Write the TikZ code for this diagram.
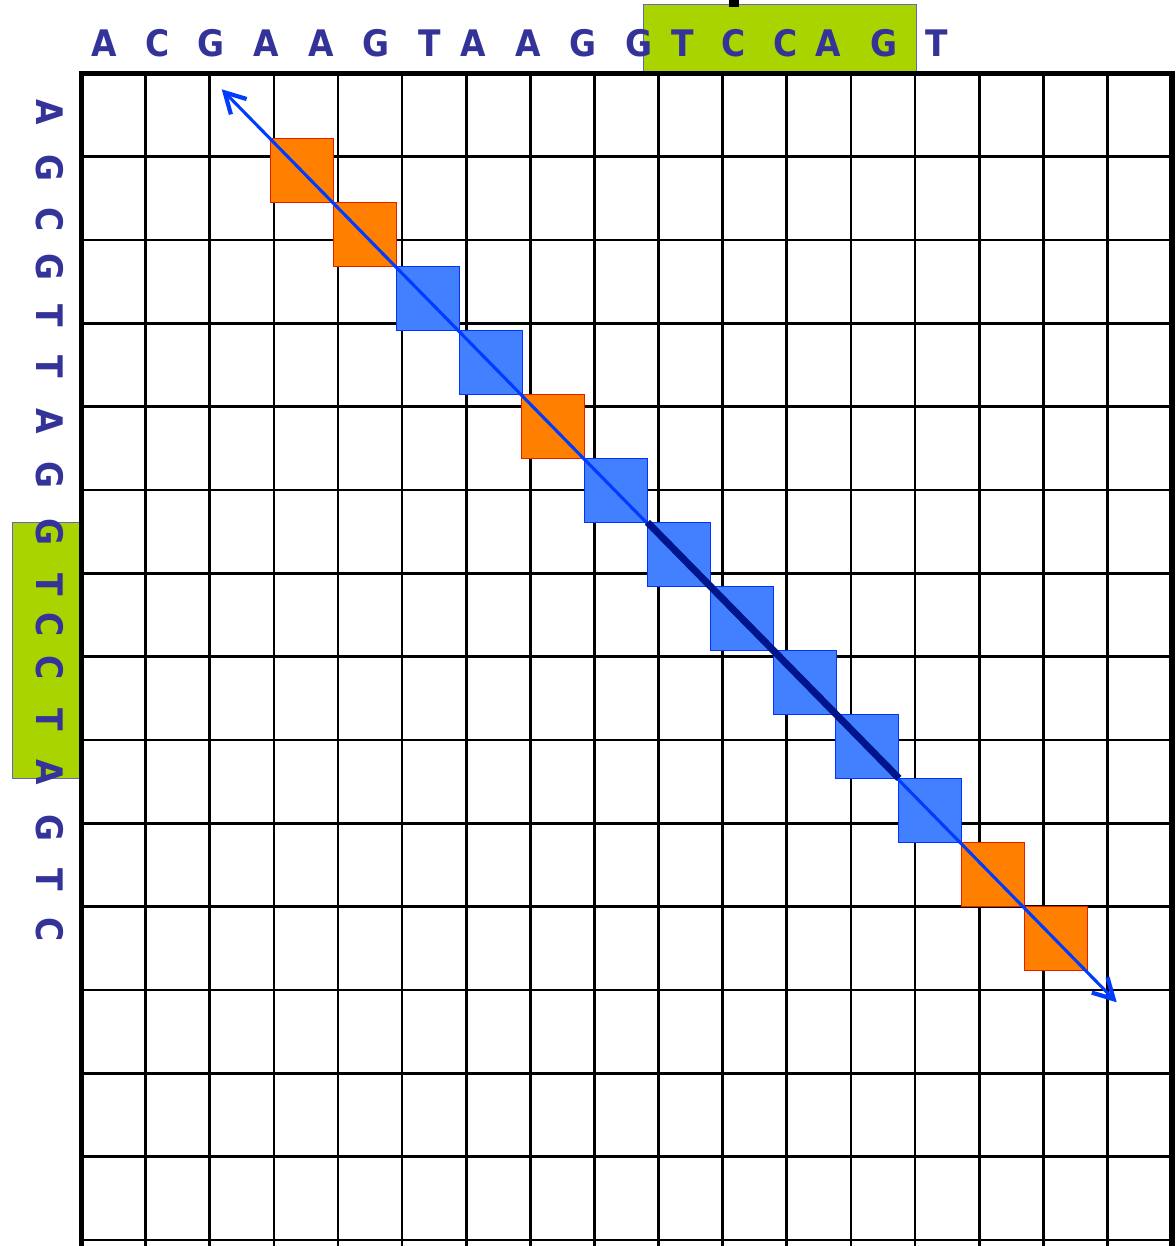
\documentclass[tikz,border=0pt]{standalone}
\usepackage{fontspec}
\usepackage{xcolor}
\usepackage{tikz}
\usetikzlibrary{arrows.meta}
\newfontfamily\seqfont[FakeStretch=0.9]{DejaVu Sans}
\definecolor{cSeq}{RGB}{51,51,153}
\definecolor{cHl}{RGB}{170,212,0}
\definecolor{cHlLine}{RGB}{100,100,200}
\definecolor{cMiss}{RGB}{255,128,0}
\definecolor{cMissLine}{RGB}{230,30,0}
\definecolor{cHit}{RGB}{66,128,255}
\definecolor{cHitLine}{RGB}{0,51,255}
\definecolor{cDiag}{RGB}{0,60,255}
\definecolor{cRun}{RGB}{0,20,140}

\begin{document}
\begin{tikzpicture}[x=0.025cm,y=-0.025cm,
   nuc/.style={font=\seqfont\bfseries\fontsize{26}{30}\selectfont,text=cSeq,inner sep=0pt},
   gline/.style={line width=1.9pt},
   gedge/.style={line width=3.9pt},
   sq/.style={minimum width=1.575cm,minimum height=1.6cm,inner sep=0pt,outer sep=0pt,line width=0.7pt},
   miss/.style={sq,fill=cMiss,draw=cMissLine},
   hit/.style={sq,fill=cHit,draw=cHitLine},
   hl/.style={fill=cHl,draw=cHlLine,line width=0.7pt}]
 \useasboundingbox (0,0) rectangle (1175,1246);
 % highlighted stretches
 \draw[hl] (643,4) rectangle (916,73.5);
 \draw[hl] (12.3,522) rectangle (79,778);
 \fill (729,0) rectangle (739,7);
 % dot-plot grid
 \foreach \i in {1,...,16} \draw[gline] (81.5+64.12*\i,73.5) -- (81.5+64.12*\i,1246);
 \foreach \j in {1,...,14} \draw[gline] (81.5,73.5+83.33*\j) -- (1171.5,73.5+83.33*\j);
 \draw[gedge] (81.5,1246) -- (81.5,73.5) -- (1172,73.5) -- (1172,1246);
 % sequences
 \foreach \k/\b/\x in {1/A/104.5,2/C/157.5,3/G/211,4/A/266,5/A/321,6/G/376,7/T/430,
   8/A/473,9/A/528,10/G/583,11/G/639,12/T/682.5,13/C/734,14/C/786,15/A/828.5,16/G/883.5,17/T/937}
   \node[nuc] (t\k) at (\x,43.5) {\b};
 \foreach \k/\b/\y in {1/A/112,2/G/168,3/C/220,4/G/267,5/T/316,6/T/367,7/A/421,8/G/475,
   9/G/532,10/T/585,11/C/625,12/C/668,13/T/720,14/A/772,15/G/828,16/T/880,17/C/930}
   \node[nuc,rotate=-90] (s\k) at (50,\y) {\b};
 % cells along the diagonal
 \foreach \k/\st in {0/miss,1/miss,2/hit,3/hit,4/miss,5/hit,6/hit,7/hit,8/hit,9/hit,10/hit,11/miss,12/miss}
   \node[\st] (q\k) at (302.2+62.8*\k,170.3+64*\k) {};
 % diagonal
 \coordinate (d0) at (221.7,89.3);
 \coordinate (d1) at (1116.7,1002.3);
 \draw[cDiag,line width=2.2pt,{Straight Barb[length=5mm,width=5.5mm,line width=3pt]}-{Straight Barb[length=5mm,width=5.5mm,line width=3pt]}] (d0) -- (d1);
 \draw[cRun,line width=5pt] (q6.north west) -- (q9.south east);
\end{tikzpicture}
\end{document}
